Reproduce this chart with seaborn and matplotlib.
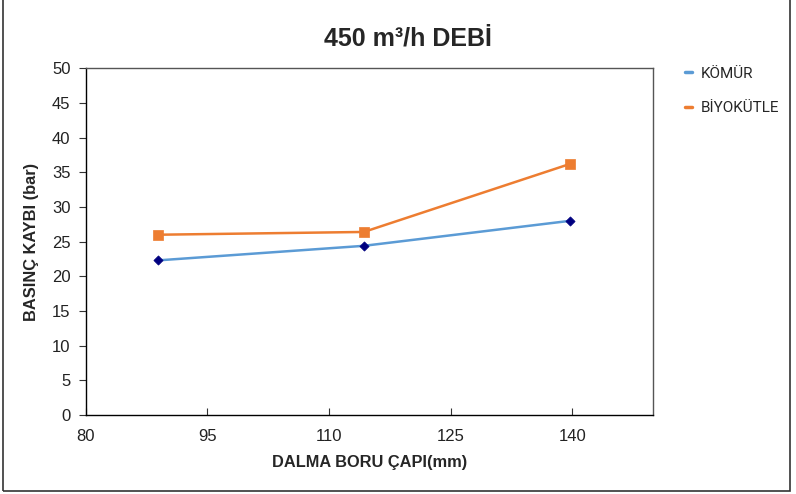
import matplotlib
matplotlib.use("Agg")
import matplotlib.pyplot as plt
from matplotlib.lines import Line2D
from matplotlib.patches import Rectangle
import pandas as pd
import seaborn as sns

# Pipe diameters (mm) and pressure losses (bar)
diameters = [88.9, 114.3, 139.7]
komur = [22.3, 24.4, 28.0]
biyokutle = [26.0, 26.4, 36.2]
series_names = ["KÖMÜR", "BİYOKÜTLE"]
x_ticks = [80, 95, 110, 125, 140]
y_ticks = [0, 5, 10, 15, 20, 25, 30, 35, 40, 45, 50]

line_colors = {"KÖMÜR": "#5B9BD5", "BİYOKÜTLE": "#ED7D31"}
marker_colors = {"KÖMÜR": "#000080", "BİYOKÜTLE": "#ED7D31"}
marker_shapes = {"KÖMÜR": "D", "BİYOKÜTLE": "s"}

df = pd.DataFrame({
    "cap": diameters * 2,
    "kayip": komur + biyokutle,
    "seri": [series_names[0]] * 3 + [series_names[1]] * 3,
})

sns.set_theme(style="white")
plt.rcParams["font.family"] = ["Liberation Sans", "DejaVu Sans"]

fig = plt.figure(figsize=(7.96, 4.94), dpi=100)
ax = fig.add_axes([0.1077, 0.1599, 0.7130, 0.7018])

sns.lineplot(data=df, x="cap", y="kayip", hue="seri", palette=line_colors,
             linewidth=1.8, legend=False, ax=ax, zorder=2)
for name in series_names:
    sub = df[df["seri"] == name]
    sns.scatterplot(data=sub, x="cap", y="kayip", color=marker_colors[name],
                    marker=marker_shapes[name],
                    s=22 if name == "KÖMÜR" else 45,
                    edgecolor=marker_colors[name], linewidth=0.5,
                    legend=False, ax=ax, zorder=3)

ax.set_xlim(80, 150)
ax.set_ylim(0, 50)
ax.set_xticks(x_ticks)
ax.set_yticks(y_ticks)
ax.tick_params(axis="y", direction="out", length=5, width=0.8, color="#333333",
               labelsize=12, labelcolor="#222222", pad=6, left=True)
ax.tick_params(axis="x", direction="in", length=5, width=0.8, color="#333333",
               labelsize=12, labelcolor="#222222", pad=10, bottom=True)

for side in ["left", "bottom"]:
    ax.spines[side].set_color("black")
    ax.spines[side].set_linewidth(1.0)
for side in ["top", "right"]:
    ax.spines[side].set_color("#555555")
    ax.spines[side].set_linewidth(1.0)

ax.set_xlabel("DALMA BORU ÇAPI(mm)", fontsize=11.8, fontweight="bold", labelpad=8)
ax.set_ylabel("BASINÇ KAYBI (bar)", fontsize=11.8, fontweight="bold", labelpad=9)
fig.text(0.512, 0.922, "450 m³/h DEBİ", ha="center", va="center",
         fontsize=18, fontweight="bold")

handles = [Line2D([0], [0], color=line_colors[n], linewidth=2.5) for n in series_names]
fig.legend(handles, series_names, loc="upper left", bbox_to_anchor=(0.843, 0.893),
           frameon=False, handlelength=0.5, handletextpad=0.55, labelspacing=1.35,
           prop={"family": ["Roboto", "DejaVu Sans"], "size": 11})

# Outer chart frame
fig.patches.append(Rectangle((0.004, 0.006), 0.989, 1.2, transform=fig.transFigure,
                             fill=False, edgecolor="#333333", linewidth=1.2))

fig.savefig("out.png", dpi=100)
